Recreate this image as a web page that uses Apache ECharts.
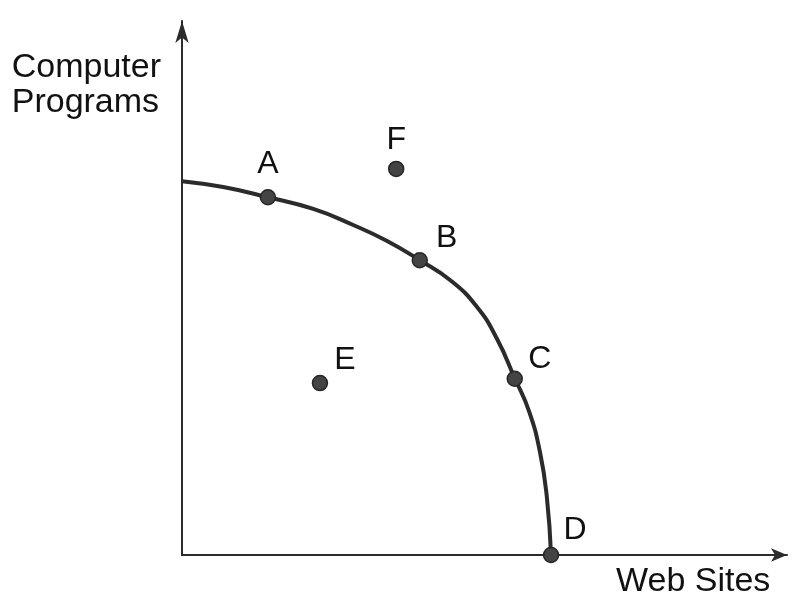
<!DOCTYPE html>
<html>
<head>
<meta charset="utf-8">
<script src="https://cdn.jsdelivr.net/npm/echarts@6/dist/echarts.min.js"></script>
<style>
  html, body { margin: 0; padding: 0; background: #fff; }
  #chart { width: 795px; height: 599px; }
</style>
</head>
<body>
<div id="chart"></div>
<script>
// frontier (web sites, computer programs)
let curveX = [0, 6.8, 14.2, 21.7, 28.3, 33.9, 39.3, 44.3, 48.8, 52.1, 55.0, 57.4, 59.2, 60.3, 61.0];
let curveY = [70.0, 68.9, 67.0, 64.8, 61.8, 58.8, 55.2, 51.5, 46.4, 40.4, 33.1, 26.8, 19.1, 10.9, 0];

// labelled points
let pointNames = ['A', 'B', 'C', 'D', 'E', 'F'];
let pointX = [14.2, 39.3, 55.0, 61.0, 22.8, 35.4];
let pointY = [67.0, 55.2, 33.0, 0, 32.2, 72.3];
let labelOffsets = [[0, -33], [27, -22], [25, -20], [24, -25], [25, -23], [0, -29]];

let xName = 'Web Sites';
let yName = ['Computer', 'Programs'];

let font = 'Liberation Sans, Arial, sans-serif';
let ink = '#2b2b2b';

let chart = echarts.init(document.getElementById('chart'), null, {renderer: 'canvas'});

let curveData = curveX.map((x, i) => [x, curveY[i]]);
let pointData = pointNames.map((n, i) => ({
    value: [pointX[i], pointY[i]],
    name: n,
    label: {offset: labelOffsets[i]}
}));

/* 坐标轴：只要轴线和箭头 */
let axisCommon = {
    type: 'value',
    min: 0,
    max: 100,
    axisLabel: {show: false},
    axisTick: {show: false},
    splitLine: {show: false}
};

let option = {
    backgroundColor: '#fff',
    animation: false,
    grid: {left: 182, right: 8, top: 21, bottom: 44},
    xAxis: Object.assign({}, axisCommon, {
        axisLine: {
            show: true,
            symbol: ['none', 'arrow'],
            symbolSize: [10, 16],
            lineStyle: {color: ink, width: 2}
        }
    }),
    yAxis: Object.assign({}, axisCommon, {
        axisLine: {
            show: true,
            symbol: ['none', 'arrow'],
            symbolSize: [10, 22],
            lineStyle: {color: ink, width: 2}
        }
    }),
    graphic: [
        {
            type: 'text',
            right: 795 - 161,
            top: 50,
            style: {
                text: yName.join('\n'),
                font: '34px ' + font,
                fill: '#111',
                align: 'right',
                lineHeight: 35
            }
        },
        {
            type: 'text',
            left: 616,
            top: 565,
            style: {
                text: xName,
                font: '34px ' + font,
                fill: '#111'
            }
        }
    ],
    series: [
        {
            type: 'line',
            data: curveData,
            smooth: 0.5,
            symbol: 'none',
            lineStyle: {color: ink, width: 4},
            z: 2
        },
        {
            type: 'scatter',
            data: pointData,
            symbolSize: 15,
            itemStyle: {color: '#444', borderColor: '#262626', borderWidth: 1.5, opacity: 1},
            label: {
                show: true,
                position: 'inside',
                formatter: p => p.name,
                fontFamily: font,
                fontSize: 32,
                color: '#111'
            },
            z: 3
        }
    ]
};
chart.setOption(option);
</script>
</body>
</html>
